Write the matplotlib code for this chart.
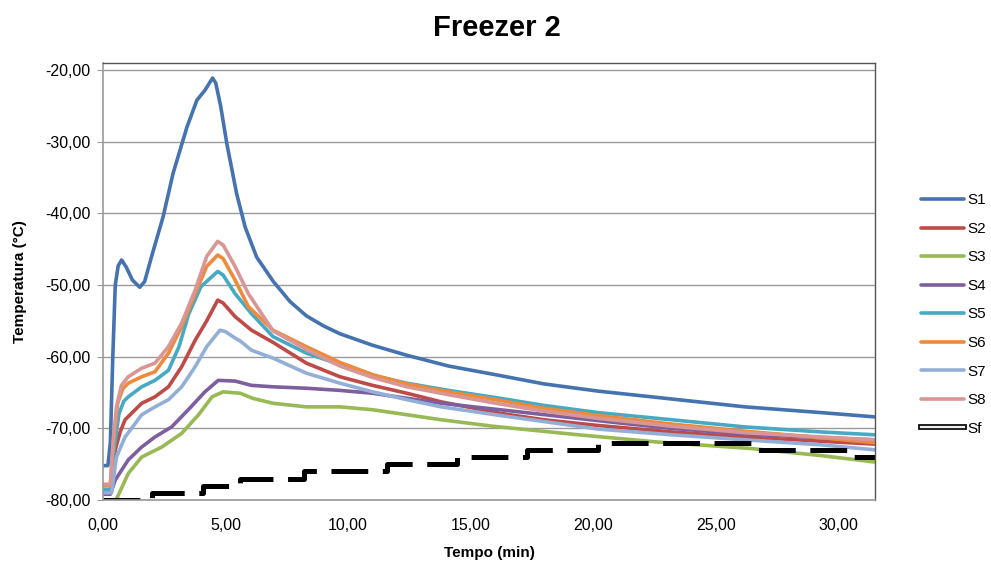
import matplotlib
matplotlib.use("Agg")
import matplotlib.pyplot as plt
from matplotlib.lines import Line2D
from matplotlib.ticker import FuncFormatter
import matplotlib.patheffects as pe

plt.rcParams['font.family'] = ['Liberation Sans', 'DejaVu Sans']
plt.rcParams['lines.scale_dashes'] = False

# ---- data (time in minutes, temperature in °C) ----
t_s1 = [0, 0.2, 0.3, 0.4, 0.5, 0.62, 0.76, 0.95, 1.2, 1.5, 1.7, 2.0, 2.45, 2.86, 3.42, 3.83, 4.16, 4.47,
        4.6, 4.8, 5.05, 5.45, 5.8, 6.27, 6.95, 7.63, 8.3, 9.0, 9.67, 11.0, 12.4, 14.1, 16.0, 18.0, 20.2,
        23.2, 26.2, 29.3, 31.5]
s1 = [-75.2, -75.2, -72.0, -60.0, -50.0, -47.3, -46.5, -47.5, -49.3, -50.3, -49.5, -45.8, -40.5, -34.4,
      -28.0, -24.2, -22.8, -21.1, -21.8, -25.0, -30.2, -37.2, -41.9, -46.1, -49.5, -52.3, -54.3, -55.7,
      -56.8, -58.4, -59.8, -61.3, -62.5, -63.8, -64.8, -65.9, -67.0, -67.8, -68.4]

t_s2 = [0, 0.32, 0.5, 0.7, 0.9, 1.58, 2.12, 2.67, 3.21, 3.76, 4.23, 4.68, 4.9, 5.39, 6.06, 6.94, 8.3,
        9.67, 11.0, 12.4, 13.8, 16.2, 18.0, 20.2, 23.2, 26.2, 29.3, 31.5]
s2 = [-78.8, -78.8, -73.0, -70.5, -68.8, -66.5, -65.6, -64.2, -61.4, -57.7, -55.0, -52.1, -52.5, -54.4,
      -56.3, -58.0, -60.9, -62.8, -64.0, -65.1, -66.3, -67.9, -68.8, -69.6, -70.5, -71.2, -71.8, -72.2]

t_s3 = [0, 0.5, 0.6, 1.03, 1.58, 2.4, 3.21, 3.9, 4.45, 4.9, 5.6, 6.1, 6.94, 8.3, 9.67, 11.0, 12.4, 13.8,
        15.9, 19.4, 22.6, 26.4, 29.3, 31.5]
s3 = [-80.2, -80.2, -79.5, -76.3, -74.0, -72.6, -70.7, -68.1, -65.6, -64.9, -65.1, -65.8, -66.5, -67.0,
      -67.0, -67.4, -68.1, -68.8, -69.7, -70.9, -71.9, -72.8, -73.8, -74.7]

t_s4 = [0, 0.3, 0.5, 1.03, 1.58, 2.12, 2.8, 3.48, 4.16, 4.7, 5.39, 6.06, 6.94, 8.3, 9.67, 11.0, 12.4,
        13.8, 16.2, 21.2, 23.2, 26.2, 29.3, 31.5]
s4 = [-79.2, -79.2, -77.2, -74.4, -72.6, -71.2, -69.8, -67.4, -64.9, -63.3, -63.4, -64.0, -64.2, -64.4,
      -64.7, -65.1, -65.8, -66.5, -67.4, -69.3, -70.0, -70.8, -71.3, -71.6]

t_s5 = [0, 0.32, 0.45, 0.65, 0.85, 1.03, 1.58, 2.12, 2.67, 3.1, 3.5, 4.0, 4.68, 4.9, 5.39, 6.06, 6.94,
        8.3, 9.67, 11.0, 12.4, 14.1, 16.2, 18.0, 20.2, 23.2, 26.2, 29.3, 31.5]
s5 = [-78.5, -78.5, -73.0, -68.0, -66.2, -65.6, -64.2, -63.3, -61.9, -58.6, -54.0, -50.2, -48.1, -48.6,
      -51.2, -54.0, -57.2, -59.5, -61.1, -62.6, -63.7, -64.7, -65.8, -66.8, -67.8, -68.8, -69.8, -70.5,
      -70.9]

t_s6 = [0, 0.3, 0.42, 0.6, 0.8, 1.03, 1.58, 2.12, 2.67, 3.21, 3.76, 4.23, 4.68, 4.9, 5.39, 5.93, 6.94,
        8.3, 9.67, 11.0, 12.4, 14.1, 16.2, 18.0, 20.2, 23.2, 26.2, 29.3, 31.5]
s6 = [-78.0, -78.0, -72.0, -66.5, -64.5, -63.7, -62.8, -62.1, -59.5, -55.8, -51.2, -47.4, -45.8, -46.3,
      -49.3, -53.0, -56.3, -58.6, -60.8, -62.5, -63.8, -64.9, -66.1, -67.2, -68.2, -69.4, -70.4, -71.3,
      -72.0]

t_s7 = [0, 0.35, 0.55, 0.9, 1.58, 2.12, 2.67, 3.21, 3.76, 4.23, 4.77, 5.0, 5.39, 5.6, 6.06, 6.94, 8.3,
        9.67, 11.0, 12.4, 13.8, 16.2, 20.2, 23.2, 26.2, 29.3, 31.5]
s7 = [-79.0, -79.0, -74.0, -71.2, -68.1, -67.0, -66.0, -64.2, -61.4, -58.6, -56.3, -56.5, -57.4, -57.8,
      -59.1, -60.2, -62.3, -63.7, -64.9, -66.0, -67.0, -68.2, -70.1, -70.9, -71.6, -72.3, -73.0]

t_s8 = [0, 0.3, 0.42, 0.55, 0.75, 1.03, 1.58, 2.12, 2.67, 3.21, 3.76, 4.23, 4.68, 4.9, 5.39, 5.93, 6.94,
        8.3, 9.67, 11.0, 12.4, 14.1, 16.2, 18.0, 20.2, 23.2, 26.2, 29.3, 31.5]
s8 = [-77.8, -77.8, -71.5, -67.0, -64.0, -62.8, -61.6, -60.9, -58.6, -55.3, -50.7, -46.0, -43.9, -44.4,
      -47.4, -51.2, -56.4, -59.0, -61.3, -62.9, -64.2, -65.3, -66.6, -67.6, -68.6, -69.7, -70.6, -71.2,
      -71.6]

t_sf = [0, 2.0, 4.1, 5.6, 8.2, 11.6, 14.45, 17.3, 20.2, 26.7, 30.6, 31.5]
sf = [-80, -79, -78, -77, -76, -75, -74, -73, -72, -73, -74, -74]

labels = ['S1', 'S2', 'S3', 'S4', 'S5', 'S6', 'S7', 'S8', 'Sf']
colors = ['#4573B0', '#BE4B48', '#98B954', '#7D5FA0', '#46AAC4', '#EE8A3C', '#93AFD8', '#D99694']

y_ticks = [-80, -70, -60, -50, -40, -30, -20]
x_ticks = [0, 5, 10, 15, 20, 25, 30]

# ---- figure ----
fig = plt.figure(figsize=(9.91, 5.67), dpi=100)
ax = fig.add_axes([103 / 991, 1 - 500 / 567, (875 - 103) / 991, (500 - 63) / 567])

series = [(t_s1, s1), (t_s2, s2), (t_s3, s3), (t_s4, s4), (t_s5, s5), (t_s6, s6), (t_s7, s7), (t_s8, s8)]
handles = []
for (tt, vv), c, lab in zip(series, colors, labels[:8]):
    ln, = ax.plot(tt, vv, color=c, lw=2.6, solid_joinstyle='round', solid_capstyle='round', label=lab)
    handles.append(ln)

ax.plot(t_sf, sf, drawstyle='steps-post', color='black', lw=3.6,
        linestyle=(0, (26.5, 10.5)), dash_capstyle='butt')
sf_handle = Line2D([], [], color='#f0f0f0', lw=1.6,
                   path_effects=[pe.Stroke(linewidth=4.2, foreground='#111111'), pe.Normal()])
handles.append(sf_handle)

ax.set_xlim(0, 31.5)
ax.set_ylim(-80, -19.0)
ax.set_yticks(y_ticks)
ax.set_xticks(x_ticks)
fmt = FuncFormatter(lambda v, p: f"{v:.2f}".replace('.', ','))
ax.yaxis.set_major_formatter(fmt)
ax.xaxis.set_major_formatter(fmt)
ax.grid(axis='y', color='#9a9a9a', lw=1.0)
ax.set_axisbelow(True)
for s in ['left', 'bottom']:
    ax.spines[s].set_color('#9a9a9a')
    ax.spines[s].set_linewidth(1.2)
for s in ['top', 'right']:
    ax.spines[s].set_color('#555555')
    ax.spines[s].set_linewidth(1.0)
ax.tick_params(axis='y', length=4, color='#9a9a9a', pad=5, labelsize=11.5)
ax.tick_params(axis='x', length=0, pad=13, labelsize=11.5)

ax.set_ylabel('Temperatura (°C)', fontsize=11, fontweight='bold', labelpad=13)
ax.set_xlabel('Tempo (min)', fontsize=11, fontweight='bold', labelpad=9)
fig.text(497 / 991, 1 - 28 / 567, 'Freezer 2', ha='center', va='center', fontsize=21, fontweight='bold')

fig.legend(handles=handles, labels=labels, loc='center left', bbox_to_anchor=(921 / 991, 1 - 314.5 / 567),
           frameon=False, fontsize=11, handlelength=2.8, handletextpad=0.25, labelspacing=0.95,
           borderpad=0, borderaxespad=0)

fig.savefig('out.png', dpi=100)
